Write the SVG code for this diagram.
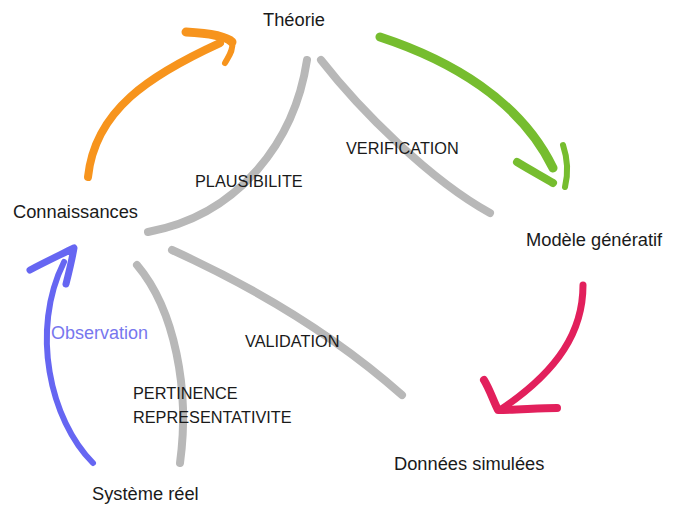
<svg xmlns="http://www.w3.org/2000/svg" width="673" height="509" viewBox="0 0 673 509">
<style>
.node{font-family:"Liberation Sans",Arial,sans-serif;font-size:18.3px;fill:#1a1a1a}
.lbl{font-family:"Liberation Sans",Arial,sans-serif;font-size:16.3px;fill:#1a1a1a}
.gray{fill:none;stroke:#b8b8b8;stroke-width:8;stroke-linecap:round}
.arr{fill:none;stroke-linecap:round;stroke-linejoin:round}
</style>
<rect width="673" height="509" fill="#ffffff"/>
<g id="connectors">
<path class="gray" d="M307,60 C 295,140 240,215 148,232"/>
<path class="gray" d="M321,60 C 360,110 430,180 490,213"/>
<path class="gray" d="M172,250 C 260,290 340,340 402,395"/>
<path class="gray" d="M137,265 C 175,310 190,390 180,463"/>
<g stroke="#f7941d" class="arr">
<path stroke-width="8" d="M88,177 C 95,110 150,75 220,43"/>
<path stroke-width="9" d="M186,32 C 205,33 225,35 232,42"/>
<path stroke-width="6" d="M232,42 C 234,50 228,57 225,63"/>
</g>
<g stroke="#76bd2f" class="arr">
<path stroke-width="9" d="M380,37 C 450,60 520,100 553,168"/>
<path stroke-width="8" d="M517,162 C 530,170 545,178 553,183"/>
<path stroke-width="6" d="M563,145 C 568,160 568,175 565,187"/>
</g>
<g stroke="#e2205c" class="arr">
<path stroke-width="7" d="M583,285 C 583,330 560,370 500,410"/>
<path stroke-width="8" d="M484,380 C 490,390 493,400 498,410 C 515,410 540,408 557,408"/>
</g>
<g stroke="#6666f2" class="arr">
<path stroke-width="6" d="M93,463 C 50,420 30,330 64,262"/>
<path stroke-width="7" d="M30,270 C 45,262 60,255 74,248 C 72,260 69,272 66,284"/>
</g>
</g>
<g id="theorie"><text class="node" x="294" y="26" text-anchor="middle">Théorie</text></g>
<g id="connaissances"><text class="node" x="13" y="218">Connaissances</text></g>
<g id="modele"><text class="node" x="526" y="246">Modèle génératif</text></g>
<g id="donnees"><text class="node" x="394" y="470">Données simulées</text></g>
<g id="systeme"><text class="node" x="92" y="500">Système réel</text></g>
<g id="labels">
<text class="lbl" x="346" y="154">VERIFICATION</text>
<text class="lbl" x="195" y="187">PLAUSIBILITE</text>
<text class="lbl" x="245" y="347">VALIDATION</text>
<text class="lbl" x="133" y="399">PERTINENCE</text>
<text class="lbl" x="133" y="423">REPRESENTATIVITE</text>
<text class="lbl" x="51" y="339" style="fill:#7777ee;font-size:18px">Observation</text>
</g>
</svg>
